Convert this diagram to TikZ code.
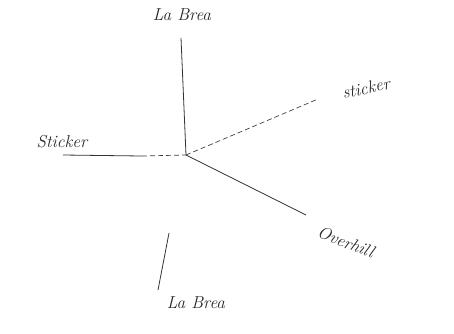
\documentclass[tikz,border=0pt]{standalone}
\begin{document}
\begin{tikzpicture}[x=1pt,y=-1pt,
  lbl/.style={font=\itshape\LARGE, text=black!85, inner sep=1pt},
  br/.style={line width=0.8pt, black!80},
  dbr/.style={line width=0.7pt, black!75, dash pattern=on 5pt off 3pt}]
\useasboundingbox (0,0) rectangle (454,333);
\coordinate (c) at (186,155);
\coordinate (t) at (181,38);
\coordinate (r) at (318,99);
\coordinate (l) at (63,155);
\coordinate (lm) at (142,156);
\coordinate (br1) at (306,215);
\coordinate (bl1) at (169,233);
\coordinate (bl2) at (158,290);
\node[lbl] (lt) at (182,15) {La Brea};
\node[lbl, rotate=12] (lr) at (366,88) {sticker};
\node[lbl] (ll) at (62,142) {Sticker};
\node[lbl, rotate=-22] (lo) at (346,242) {Overhill};
\node[lbl] (lb) at (196,303) {La Brea};
\draw[br] (t) -- (c);
\draw[dbr] (c) -- (r);
\draw[br] (l) -- (lm);
\draw[dbr] (lm) -- (c);
\draw[br] (c) -- (br1);
\draw[br] (bl1) -- (bl2);
\end{tikzpicture}
\end{document}
